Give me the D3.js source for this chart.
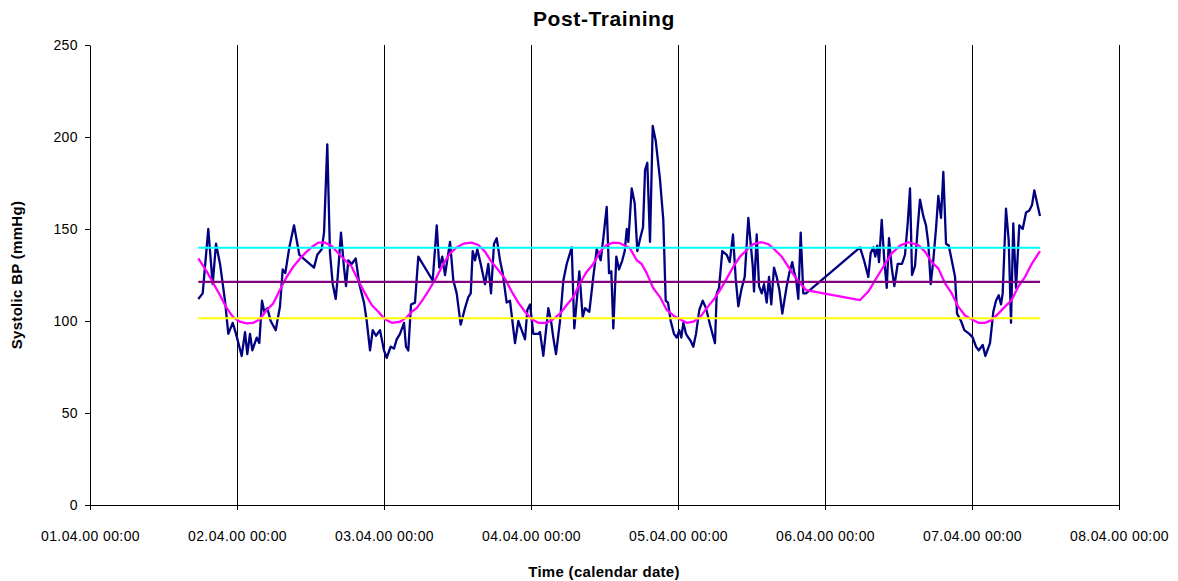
<!DOCTYPE html>
<html>
<head>
<meta charset="utf-8">
<script src="https://cdn.jsdelivr.net/npm/d3@7"></script>
<style>
    body { margin: 0; background: #fff; }
    text { font-family: "Liberation Sans", Arial, sans-serif; fill: #000; }
</style>
</head>
<body>
<div id="chart"></div>
<script>
// measured systolic BP: hours after 01.04.00 00:00, value in mmHg
let bpHours = [17.68,18.40,19.31,20.03,20.57,21.23,22.04,22.58,23.30,23.84,24.77,25.31,25.68,26.12,26.50,27.22,27.64,28.08,28.46,28.95,
    29.50,30.32,31.02,31.46,31.89,32.54,33.31,34.17,34.83,36.57,37.11,37.83,38.21,38.74,39.18,39.63,40.12,40.44,40.98,41.47,
    41.80,42.17,42.73,43.38,43.97,44.74,45.18,45.72,46.16,46.69,47.35,48.00,48.44,49.09,49.63,50.07,50.61,51.27,51.59,51.97,
    52.41,53.06,53.60,55.95,56.61,57.03,57.52,57.96,58.78,59.32,59.87,60.52,61.22,61.77,62.16,62.48,62.86,63.23,63.79,64.49,
    65.03,65.47,65.96,66.40,66.94,67.38,68.03,68.57,69.39,69.93,70.48,71.02,71.40,71.84,72.38,73.19,73.47,74.01,74.83,75.27,
    75.64,76.08,76.74,77.28,77.83,78.65,79.07,79.89,80.44,80.82,81.52,82.17,82.73,83.38,83.81,84.36,84.74,85.11,85.44,85.93,
    86.37,86.91,87.30,87.63,87.89,88.44,88.93,89.36,89.91,90.29,90.62,90.99,91.43,91.87,92.36,93.06,93.60,93.99,94.37,94.81,
    95.35,95.79,96.21,96.54,96.87,97.31,97.69,98.08,98.50,98.94,99.48,100.04,100.57,101.23,102.04,102.32,102.70,103.23,103.95,104.44,
    104.98,105.42,105.85,106.34,106.89,107.48,108.20,108.41,108.85,109.23,109.67,110.04,110.48,110.86,111.23,111.67,112.11,112.54,113.03,113.75,
    114.17,114.66,114.94,115.27,115.64,116.03,116.46,116.90,125.72,126.37,127.07,127.46,127.89,128.21,128.54,128.82,129.26,129.68,130.08,130.45,
    130.89,131.32,131.87,132.57,133.06,133.50,133.88,134.21,134.70,135.14,135.51,136.05,136.49,136.87,137.26,137.68,138.12,138.50,138.94,139.32,
    139.76,140.20,140.69,141.23,141.56,142.21,142.75,143.56,144.12,144.66,145.10,145.75,146.18,146.94,147.48,147.92,148.36,148.74,149.01,149.55,
    149.99,150.37,150.74,151.19,151.72,152.28,152.82,153.36,153.80,154.17,155.10];
let bpValues = [112,115,150,120,142,131,111,93,99,93,81,94,82,93,84,91,88,111,105,107,
    100,95,108,128,126,140,152,136,134,129,136,139,148,196,137,120,112,124,148,129,
    119,133,131,134,120,110,100,84,95,92,95,84,80,86,85,90,93,99,86,84,
    109,110,135,122,152,129,135,125,143,122,115,98,107,113,115,138,133,139,131,120,
    131,115,142,145,133,126,110,111,88,100,95,90,106,109,93,93,94,81,107,100,
    91,82,100,122,131,140,96,127,102,107,105,124,139,133,145,162,126,127,96,135,
    128,133,138,150,143,172,164,138,146,151,182,186,143,206,198,177,155,111,110,100,
    93,91,95,91,99,93,91,89,86,93,106,111,107,98,88,115,118,138,136,132,
    147,123,108,117,124,156,130,116,147,119,115,120,110,124,109,129,124,117,104,119,
    126,132,127,123,112,148,115,115,140,133,124,137,140,135,141,132,155,133,118,145,
    129,119,131,131,136,153,172,125,130,151,166,157,152,142,120,133,150,168,156,181,
    142,141,133,124,104,100,95,93,91,86,84,87,81,88,105,111,114,109,115,161,
    144,99,153,118,152,150,159,160,163,171,157];

// fitted 24 h curve
let fitHours = [17.68,19.05,20.13,21.23,22.32,23.40,24.49,25.58,26.66,27.76,28.85,29.93,31.02,32.12,33.19,34.29,35.38,36.46,37.27,38.37,
    39.46,40.54,41.63,42.73,43.80,44.90,45.99,47.07,48.16,49.26,50.61,51.71,52.52,53.34,54.42,55.51,56.61,57.68,58.78,59.87,
    60.95,62.32,63.40,64.49,65.58,66.66,67.76,68.85,69.93,71.02,72.12,73.19,74.57,75.64,76.74,77.83,78.91,80.00,81.10,82.17,
    83.27,84.36,85.44,86.53,88.16,89.26,90.07,90.89,91.97,93.06,94.16,95.23,96.33,97.42,98.50,99.60,100.69,101.77,102.86,103.95,
    105.03,106.12,107.22,108.30,109.67,110.74,111.84,112.93,114.01,115.11,116.20,116.90,125.72,127.07,128.16,129.52,130.89,132.25,133.60,135.23,
    136.33,137.42,138.50,139.60,140.69,141.76,142.86,143.95,145.03,146.12,147.21,148.30,149.39,150.48,151.56,152.66,153.75,155.10];
let fitValues = [134,127,120.5,114,107,102,99.6,98.7,99,101,106,109.6,117,124,129.5,134,137.7,140.8,142.6,142.6,
    140.8,136.8,133,129.5,122,115,108.7,105,101,99,99.6,102,105,107,112,117.8,124,131,136.8,140,
    142,142.6,141.3,137.7,132,127.7,123,116,110,105,101,99,99,101,104,108.7,113,120.5,126.8,131,
    137.7,141.3,142.6,142.3,139.5,133,131,126,117.8,113,106,103,101,99,99.6,102,107,111.4,116.8,123,
    129.5,135,138.6,141.8,142.8,141.8,138.6,135,129.5,124,119.6,116.8,111.4,116,122,129.5,136.8,141,142.8,141.3,
    137.7,132,128.6,120.5,115,107.8,103,101,99,99,100.5,104,107.8,111.4,118.7,124,131,138];

// horizontal reference levels (upper, mesor, lower)
let refLevels = [139.8, 121.3, 101.5];
let refColors = ["#00FFFF", "#800080", "#FFFF00"];

let yTicks = [0, 50, 100, 150, 200, 250];

let startDate = new Date(2000, 3, 1, 0, 0);
let toDate = h => new Date(startDate.getTime() + h * 3600000);

let margin = {top: 45, right: 59, bottom: 76, left: 90};
let width = 1178 - margin.left - margin.right;
let height = 581 - margin.top - margin.bottom;

let svg = d3.select("#chart").append("svg")
    .attr("width", 1178)
    .attr("height", 581);

let g = svg.append("g")
    .attr("transform", "translate(" + margin.left + "," + margin.top + ")");

let x = d3.scaleTime()
    .domain([startDate, toDate(168)])
    .range([0, width]);

let y = d3.scaleLinear()
    .domain([0, 250])
    .range([height, 0]);

// day grid lines
let days = d3.timeDay.range(toDate(24), toDate(169));
g.selectAll(".grid")
    .data(days)
    .enter().append("line")
    .attr("class", "grid")
    .attr("x1", d => Math.round(x(d)) + 0.5)
    .attr("x2", d => Math.round(x(d)) + 0.5)
    .attr("y1", 0)
    .attr("y2", height)
    .attr("stroke", "#000")
    .attr("stroke-width", 1);

// axes
let xAxis = g.append("g")
    .attr("transform", "translate(0," + height + ")")
    .call(d3.axisBottom(x)
        .ticks(d3.timeDay.every(1))
        .tickFormat(d3.timeFormat("%d.%m.%y %H:%M"))
        .tickSize(5)
        .tickSizeOuter(0)
        .tickPadding(21));

let yAxis = g.append("g")
    .call(d3.axisLeft(y)
        .tickValues(yTicks)
        .tickSize(5)
        .tickSizeOuter(0)
        .tickPadding(7));

[xAxis, yAxis].forEach(ax => {
    ax.selectAll("text")
        .style("font-size", "14px")
        .style("letter-spacing", "0.4px")
        .attr("fill", "#000");
    ax.selectAll("line, path").attr("stroke", "#000");
});

// series
let bpLine = d3.line()
    .x((d, i) => x(toDate(bpHours[i])))
    .y(d => y(d));

let fitLine = d3.line()
    .x((d, i) => x(toDate(fitHours[i])))
    .y(d => y(d));

g.append("path")
    .datum(bpValues)
    .attr("d", bpLine)
    .attr("fill", "none")
    .attr("stroke", "#000080")
    .attr("stroke-width", 2.3)
    .attr("stroke-linejoin", "round");

g.append("path")
    .datum(fitValues)
    .attr("d", fitLine)
    .attr("fill", "none")
    .attr("stroke", "#FF00FF")
    .attr("stroke-width", 2.3)
    .attr("stroke-linejoin", "round");

let hStart = bpHours[0], hEnd = bpHours[bpHours.length - 1];
g.selectAll(".ref")
    .data(refLevels)
    .enter().append("line")
    .attr("class", "ref")
    .attr("x1", x(toDate(hStart)))
    .attr("x2", x(toDate(hEnd)))
    .attr("y1", d => y(d))
    .attr("y2", d => y(d))
    .attr("stroke", (d, i) => refColors[i])
    .attr("stroke-width", 2.2);

// titles
svg.append("text")
    .attr("x", 604)
    .attr("y", 26)
    .attr("text-anchor", "middle")
    .style("font-size", "21px")
    .style("letter-spacing", "0.6px")
    .style("font-weight", "bold")
    .text("Post-Training");

svg.append("text")
    .attr("x", 604)
    .attr("y", 577)
    .attr("text-anchor", "middle")
    .style("font-size", "15px")
    .style("letter-spacing", "0.3px")
    .style("font-weight", "bold")
    .text("Time (calendar date)");

svg.append("text")
    .attr("transform", "translate(22," + (margin.top + height / 2) + ") rotate(-90)")
    .attr("text-anchor", "middle")
    .style("font-size", "15px")
    .style("letter-spacing", "0.3px")
    .style("font-weight", "bold")
    .text("Systolic BP (mmHg)");
</script>
</body>
</html>
